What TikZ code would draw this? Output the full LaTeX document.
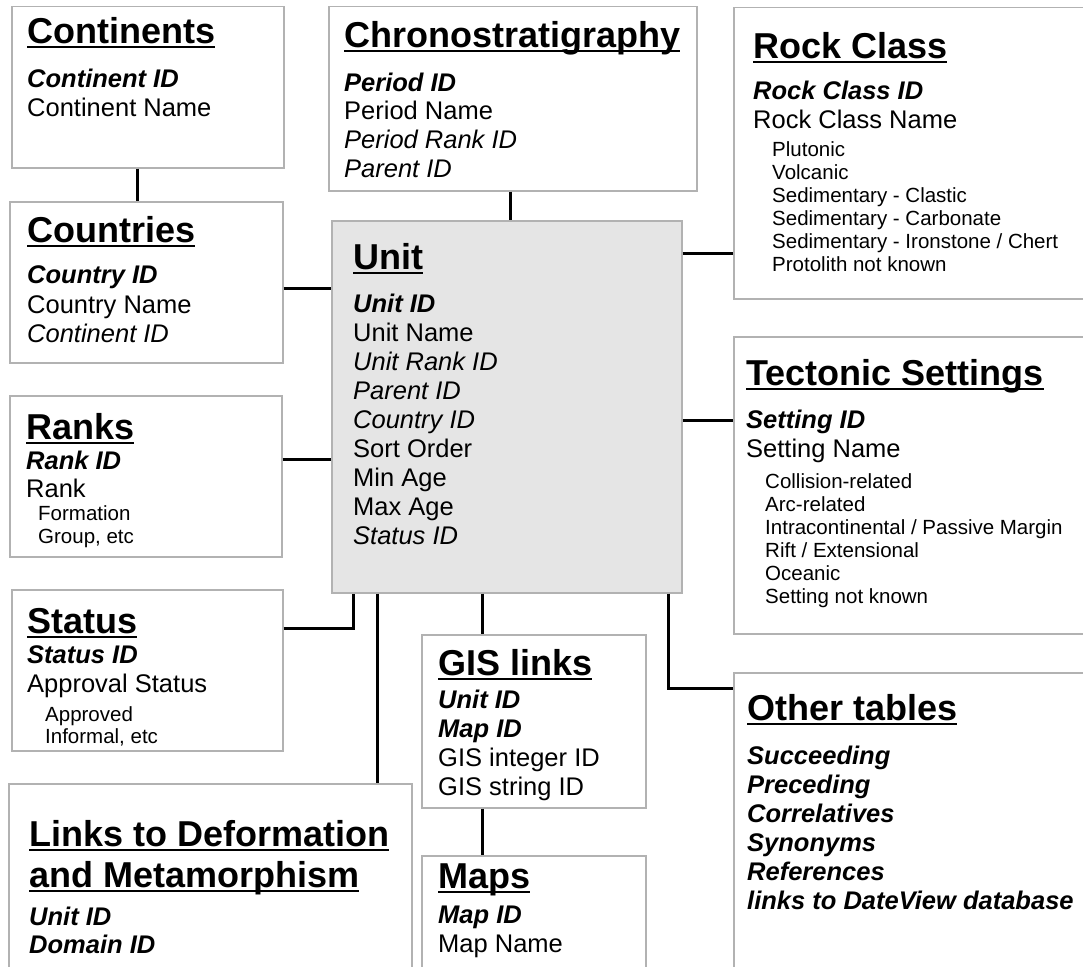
\documentclass[tikz,border=0pt]{standalone}
\usepackage{fontspec}
\setmainfont{Liberation Sans}
\usetikzlibrary{positioning}
\setlength{\parindent}{0pt}
\setlength{\parskip}{0pt}
\definecolor{boxgray}{RGB}{178,178,178}
\definecolor{unitfill}{RGB}{229,229,229}

% table heading, underlined
\newcommand{\hdline}[1]{\setbox0\hbox{#1}\rlap{\rule[-5pt]{\wd0}{2.2pt}}\box0}
\newcommand{\thead}[2][36]{{\fontsize{36}{#1}\selectfont\bfseries\rule{0pt}{30pt}\hdline{#2}\par}}
% key field, plain field, foreign field, sub item
\newcommand{\kf}[2][29]{{\fontsize{25.5}{#1}\selectfont\bfseries\itshape #2\par}}
\newcommand{\nf}[2][29]{{\fontsize{25.5}{#1}\selectfont #2\par}}
\newcommand{\ff}[2][29]{{\fontsize{25.5}{#1}\selectfont\itshape #2\par}}
\newcommand{\subf}[3][23]{{\fontsize{20.5}{#1}\selectfont\hspace*{#2}#3\par}}

\begin{document}
\begin{tikzpicture}[x=1pt, y=-1pt,
        tblbox/.style={draw=boxgray, line width=1.5pt, fill=white, inner sep=0pt, anchor=north west},
        tbltext/.style={anchor=north west, inner sep=0pt, text width=400pt,
            execute at begin node={\parindent=0pt\spaceskip=0pt\xspaceskip=0pt\lineskiplimit=-1000pt}},
        link/.style={draw, line width=3pt}
    ]
        \useasboundingbox (0,0) rectangle (1083,966);
        \clip (0,0) rectangle (1083,966);

        % Tables
        \node[tblbox, minimum width=272, minimum height=161] (continents) at (11,6) {};
        \node[tblbox, minimum width=273, minimum height=161] (countries) at (9,201) {};
        \node[tblbox, minimum width=272, minimum height=161] (ranks) at (9,395) {};
        \node[tblbox, minimum width=271, minimum height=161] (status) at (11,589) {};
        \node[tblbox, minimum width=403, minimum height=220] (links) at (8,783) {};
        \node[tblbox, minimum width=368, minimum height=184] (chrono) at (328,6) {};
        \node[tblbox, fill=unitfill, minimum width=350, minimum height=372] (unit) at (331,220) {};
        \node[tblbox, minimum width=224, minimum height=173] (gis) at (421,634) {};
        \node[tblbox, minimum width=224, minimum height=140] (maps) at (421,855) {};
        \node[tblbox, minimum width=370, minimum height=291] (rock) at (733,7) {};
        \node[tblbox, minimum width=370, minimum height=297] (tectonic) at (733,336) {};
        \node[tblbox, minimum width=370, minimum height=320] (other) at (733,672) {};

        % Fields
        \node[tbltext] (continents-txt) at (27,13) {\thead{Continents}\kf[44]{Continent ID}\nf{Continent Name}};
        \node[tbltext] (countries-txt) at (27,212) {\thead{Countries}\kf[41]{Country ID}\nf[30]{Country Name}\ff{Continent ID}};
        \node[tbltext] (ranks-txt) at (26,409) {\thead{Ranks}\kf[30]{Rank ID}\nf[28]{Rank}\subf{12pt}{Formation}\subf{12pt}{Group, etc}};
        \node[tbltext] (status-txt) at (27,603) {\thead{Status}\kf[30]{Status ID}\nf{Approval Status}\subf[29]{18pt}{Approved}\subf[22]{18pt}{Informal, etc}};
        \node[tbltext] (links-txt) at (29,816) {\thead{Links to Deformation}\thead[41]{and Metamorphism}\kf[38]{Unit ID}\kf[28]{Domain ID}};
        \node[tbltext] (chrono-txt) at (344,17) {\thead{Chronostratigraphy}\kf[44]{Period ID}\nf[28]{Period Name}\ff{Period Rank ID}\ff{Parent ID}};
        \node[tbltext] (unit-txt) at (353,239) {\thead{Unit}\kf[43]{Unit ID}\nf{Unit Name}\ff{Unit Rank ID}\ff{Parent ID}\ff{Country ID}\nf{Sort Order}\nf{Min Age}\nf{Max Age}\ff{Status ID}};
        \node[tbltext] (gis-txt) at (438,645) {\thead{GIS links}\kf[33]{Unit ID}\kf{Map ID}\nf{GIS integer ID}\nf{GIS string ID}};
        \node[tbltext] (maps-txt) at (438,858) {\thead{Maps}\kf[35]{Map ID}\nf{Map Name}};
        \node[tbltext] (rock-txt) at (753,28) {\thead{Rock Class}\kf[41]{Rock Class ID}\nf{Rock Class Name}\subf[28]{19pt}{Plutonic}\subf{19pt}{Volcanic}\subf{19pt}{Sedimentary - Clastic}\subf{19pt}{Sedimentary - Carbonate}\subf{19pt}{Sedimentary - Ironstone / Chert}\subf{19pt}{Protolith not known}};
        \node[tbltext] (tectonic-txt) at (746,355) {\thead{Tectonic Settings}\kf[43]{Setting ID}\nf{Setting Name}\subf[31]{19pt}{Collision-related}\subf{19pt}{Arc-related}\subf{19pt}{Intracontinental / Passive Margin}\subf{19pt}{Rift / Extensional}\subf{19pt}{Oceanic}\subf{19pt}{Setting not known}};
        \node[tbltext] (other-txt) at (747,690) {\thead{Other tables}\kf[44]{Succeeding}\kf{Preceding}\kf{Correlatives}\kf{Synonyms}\kf{References}\kf{links to DateView database}};

        % Links between tables
        \draw[link] ([xshift=-10pt]continents.south) -- ([xshift=-10pt]continents.south |- countries.north);
        \draw[link] (countries.east |- 0,288) -- (unit.west |- 0,288);
        \draw[link] (ranks.east |- 0,459) -- (unit.west |- 0,459);
        \draw[link] (status.east |- 0,628) -| (unit.south -| 353,0);
        \draw[link] (unit.south -| 377,0) -- (links.north -| 377,0);
        \draw[link] (unit.south -| 482,0) -- (gis.north -| 482,0);
        \draw[link] (gis.south -| 482,0) -- (maps.north -| 482,0);
        \draw[link] (unit.south -| 668,0) |- (other.west |- 0,688);
        \draw[link] (chrono.south -| 510,0) -- (unit.north -| 510,0);
        \draw[link] (unit.east |- 0,253) -- (rock.west |- 0,253);
        \draw[link] (unit.east |- 0,420) -- (tectonic.west |- 0,420);
    \end{tikzpicture}
\end{document}
